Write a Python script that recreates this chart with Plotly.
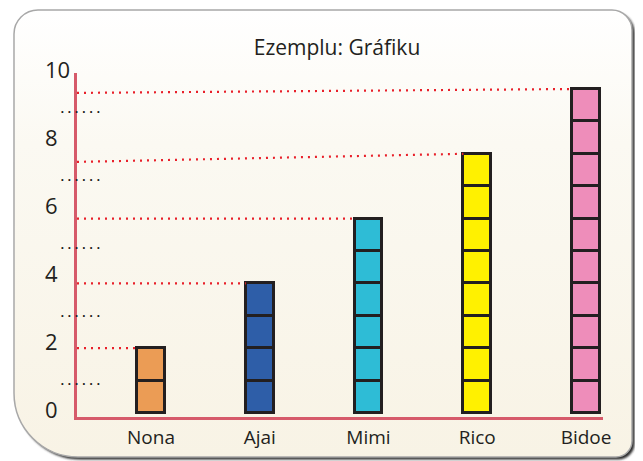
import base64
import plotly.graph_objects as go

# ---------------- data ----------------
names = ["Nona", "Ajai", "Mimi", "Rico", "Bidoe"]
values = [2, 4, 6, 8, 10]
bar_colors = ["#eb9c55", "#2e5ea8", "#2ebcd6", "#fff100", "#ee8dba"]
guide_start = [2.0, 4.0, 6.0, 7.75, 9.88]   # left end height of the red dotted guides (as drawn)
y_ticks = [0, 2, 4, 6, 8, 10]
minor_marks = [1, 3, 5, 7, 9]
title_text = "Ezemplu: Gráfiku"

# ---------------- geometry (page has an 8px body margin) ----------------
OFF = 8
W, H = 643, 461
ML, MR, MT, MB = 12, 48, 32, 15
PW, PH = W - ML - MR, H - MT - MB
BAR_W = 0.255
X_RANGE = [-0.68, 4.156]
Y_RANGE = [-0.123, 10.494]
Y0_LAB = 410 - OFF          # pixel of label "0"
Y2_RANGE = [(Y0_LAB - (H - MB)) / 34.0, (Y0_LAB - MT) / 34.0]

INK = "#231f20"
AXIS_RED = "#d65a6a"
DOT_RED = "#e8202a"

# ---------------- background panel (svg image) ----------------
L, T, R, B = 14 - OFF, 10 - OFF, 632 - OFF, 457 - OFF
rtl, rtr, rbr, rbl = 24, 20, 16, 64
d = (f"M{L+rtl},{T} H{R-rtr} A{rtr},{rtr} 0 0 1 {R},{T+rtr} V{B-rbr} "
     f"A{rbr},{rbr} 0 0 1 {R-rbr},{B} H{L+rbl} A{rbl},{rbl} 0 0 1 {L},{B-rbl} "
     f"V{T+rtl} A{rtl},{rtl} 0 0 1 {L+rtl},{T} Z")
svg = f'''<svg xmlns="http://www.w3.org/2000/svg" width="{W}" height="{H}" viewBox="0 0 {W} {H}">
<defs>
<linearGradient id="g" x1="0" y1="0" x2="0" y2="1">
<stop offset="0" stop-color="#ffffff"/><stop offset="0.3" stop-color="#fbf9f2"/><stop offset="1" stop-color="#f8f3e5"/>
</linearGradient>
<filter id="b" x="-5%" y="-5%" width="110%" height="110%"><feGaussianBlur stdDeviation="1"/></filter>
</defs>
<path d="{d}" fill="#2e2e2e" transform="translate(2.5,2.5)" filter="url(#b)"/>
<path d="{d}" fill="url(#g)" stroke="#a8a8a8" stroke-width="1.5"/>
</svg>'''
src = "data:image/svg+xml;base64," + base64.b64encode(svg.encode()).decode()

fig = go.Figure()

# red dotted guides from the axis to each bar's top-left corner
for i, (v, s) in enumerate(zip(values, guide_start)):
    fig.add_trace(go.Scatter(
        x=[X_RANGE[0], i - BAR_W / 2], y=[s, v], mode="lines",
        line=dict(color=DOT_RED, width=2.2, dash="2px,5px"),
        hoverinfo="skip", showlegend=False))

# unit blocks
for k in range(1, max(values) + 1):
    fig.add_trace(go.Bar(
        x=list(range(len(names))),
        y=[1 if v >= k else None for v in values],
        width=BAR_W,
        marker=dict(color=bar_colors, line=dict(color=INK, width=2.6)),
        hoverinfo="skip", showlegend=False))

# "......" half-way marks
fig.add_trace(go.Scatter(
    x=[X_RANGE[0] + 0.03] * len(minor_marks), y=minor_marks, yaxis="y2",
    mode="text", text=["......"] * len(minor_marks),
    textfont=dict(family="Liberation Mono", size=12, color=INK, weight="bold"),
    textposition="bottom center", cliponaxis=False,
    hoverinfo="skip", showlegend=False))

xdom0 = ((77 - OFF) - ML) / PW
ydom0 = ((H - MB) - (417 - OFF)) / PH
ydom1 = ((H - MB) - (73 - OFF)) / PH
fig.update_layout(
    width=W, height=H,
    margin=dict(l=ML, r=MR, t=MT, b=MB, autoexpand=False),
    paper_bgcolor="white", plot_bgcolor="rgba(0,0,0,0)",
    barmode="stack", bargap=0,
    title=dict(text=title_text, x=(337 - OFF) / W, xanchor="center",
               y=1 - (48 - OFF) / H, yanchor="middle",
               font=dict(family="Open Sans", size=21, color=INK)),
    xaxis=dict(domain=[xdom0, 1], range=X_RANGE, anchor="y",
               tickvals=list(range(len(names))), ticktext=names,
               ticks="outside", ticklen=1, tickcolor="rgba(0,0,0,0)",
               tickfont=dict(family="Open Sans", size=19, color=INK),
               showline=True, linecolor=AXIS_RED, linewidth=2.5,
               showgrid=False, zeroline=False, fixedrange=True, automargin=False),
    yaxis=dict(domain=[ydom0, ydom1], range=Y_RANGE, anchor="x",
               showticklabels=False, ticks="",
               showline=True, linecolor=AXIS_RED, linewidth=2.5,
               showgrid=False, zeroline=False, fixedrange=True, automargin=False),
    yaxis2=dict(domain=[0, 1], range=Y2_RANGE, anchor="free", position=((41 - OFF) - ML) / PW,
                side="left", ticklabelposition="inside", tickvals=y_ticks, ticks="",
                tickfont=dict(family="Open Sans", size=22, color=INK),
                showline=False, showgrid=False, zeroline=False, fixedrange=True, automargin=False),
    images=[dict(source=src, xref="paper", yref="paper",
                 x=-ML / PW, y=1 + MT / PH, sizex=W / PW, sizey=H / PH,
                 xanchor="left", yanchor="top", sizing="stretch", layer="below")],
)

fig.write_html("out.html")
